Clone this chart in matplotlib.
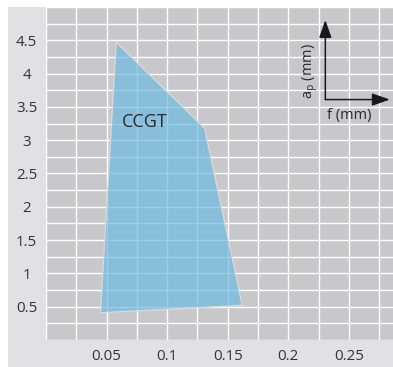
import matplotlib
matplotlib.use("Agg")
import matplotlib.pyplot as plt
from matplotlib.patches import Rectangle, Polygon
from matplotlib.ticker import FixedLocator, MultipleLocator

# Data
f_values = [0.045, 0.058, 0.131, 0.162]
ap_values = [0.41, 4.47, 3.18, 0.52]
region_label = "CCGT"
region_label_pos = (0.0819, 3.27)
xtick_values = [0.05, 0.1, 0.15, 0.2, 0.25]
xtick_labels = ["0.05", "0.1", "0.15", "0.2", "0.25"]
ytick_values = [0.5, 1, 1.5, 2, 2.5, 3, 3.5, 4, 4.5]
ytick_labels = ["0.5", "1", "1.5", "2", "2.5", "3", "3.5", "4", "4.5"]
x_axis_label = "f (mm)"
y_axis_label = r"a$_\mathregular{p}$ (mm)"

plt.rcParams['font.family'] = ['Open Sans', 'DejaVu Sans']

W, H = 393, 367
fig = plt.figure(figsize=(W / 100, H / 100), dpi=100)
fig.patch.set_facecolor('white')
fig.patches.append(Rectangle((8 / W, 0), 1 - 8 / W, (H - 7) / H,
                             transform=fig.transFigure, facecolor='#e1e1e3',
                             edgecolor='none', zorder=-10))

left, right, top, bottom = 46, 393, 7, 340
ax = fig.add_axes([left / W, (H - bottom) / H, (right - left) / W, (bottom - top) / H])
ax.set_facecolor('#c8c8ca')
ax.set_xlim(0, 0.2865)
ax.set_ylim(0, 5.0)
for s in ax.spines.values():
    s.set_visible(False)

ax.xaxis.set_major_locator(FixedLocator(xtick_values))
ax.yaxis.set_major_locator(FixedLocator(ytick_values))
ax.set_xticklabels(xtick_labels)
ax.set_yticklabels(ytick_labels)
ax.xaxis.set_minor_locator(MultipleLocator(0.025))
ax.yaxis.set_minor_locator(MultipleLocator(0.25))
ax.grid(True, which='both', color='white', linewidth=1.0)
ax.set_axisbelow(True)
ax.tick_params(which='both', length=0)
ax.tick_params(axis='y', pad=14, labelsize=10.8, labelcolor='#333333')
ax.tick_params(axis='x', pad=12, labelsize=10.8, labelcolor='#333333')
for lbl in ax.get_yticklabels():
    lbl.set_ha('center')
for lbl in ax.get_xticklabels():
    lbl.set_va('center')

poly = Polygon(list(zip(f_values, ap_values)), closed=True,
               facecolor='#6ebbe0', alpha=0.7, edgecolor='none', zorder=2)
ax.add_patch(poly)
edge = Polygon(list(zip(f_values, ap_values)), closed=True,
               facecolor='none', edgecolor='#dadada', linewidth=0.9, zorder=3)
ax.add_patch(edge)

ax.text(region_label_pos[0], region_label_pos[1], region_label, fontsize=13,
        color='#2a2a2a', ha='center', va='center', zorder=4)

# axis direction arrows
ox, oy = 0.805, 0.722
arrow_kw = dict(arrowstyle='-|>,head_length=0.54,head_width=0.19', mutation_scale=20,
                color='#1a1a1a', lw=1.1, shrinkA=0, shrinkB=0)
ax.annotate('', xy=(ox, 0.961), xytext=(ox, oy), xycoords='axes fraction',
            textcoords='axes fraction', arrowprops=arrow_kw, zorder=5)
ax.annotate('', xy=(0.991, oy), xytext=(ox, oy), xycoords='axes fraction',
            textcoords='axes fraction', arrowprops=arrow_kw, zorder=5)
ax.text(0.873, 0.674, x_axis_label, transform=ax.transAxes, fontsize=10.5,
        color='#2a2a2a', ha='center', va='center', zorder=5)
ax.text(0.761, 0.808, y_axis_label, transform=ax.transAxes, fontsize=10.5,
        color='#2a2a2a', ha='center', va='center', rotation=90, zorder=5)

fig.savefig('out.png', dpi=100)
